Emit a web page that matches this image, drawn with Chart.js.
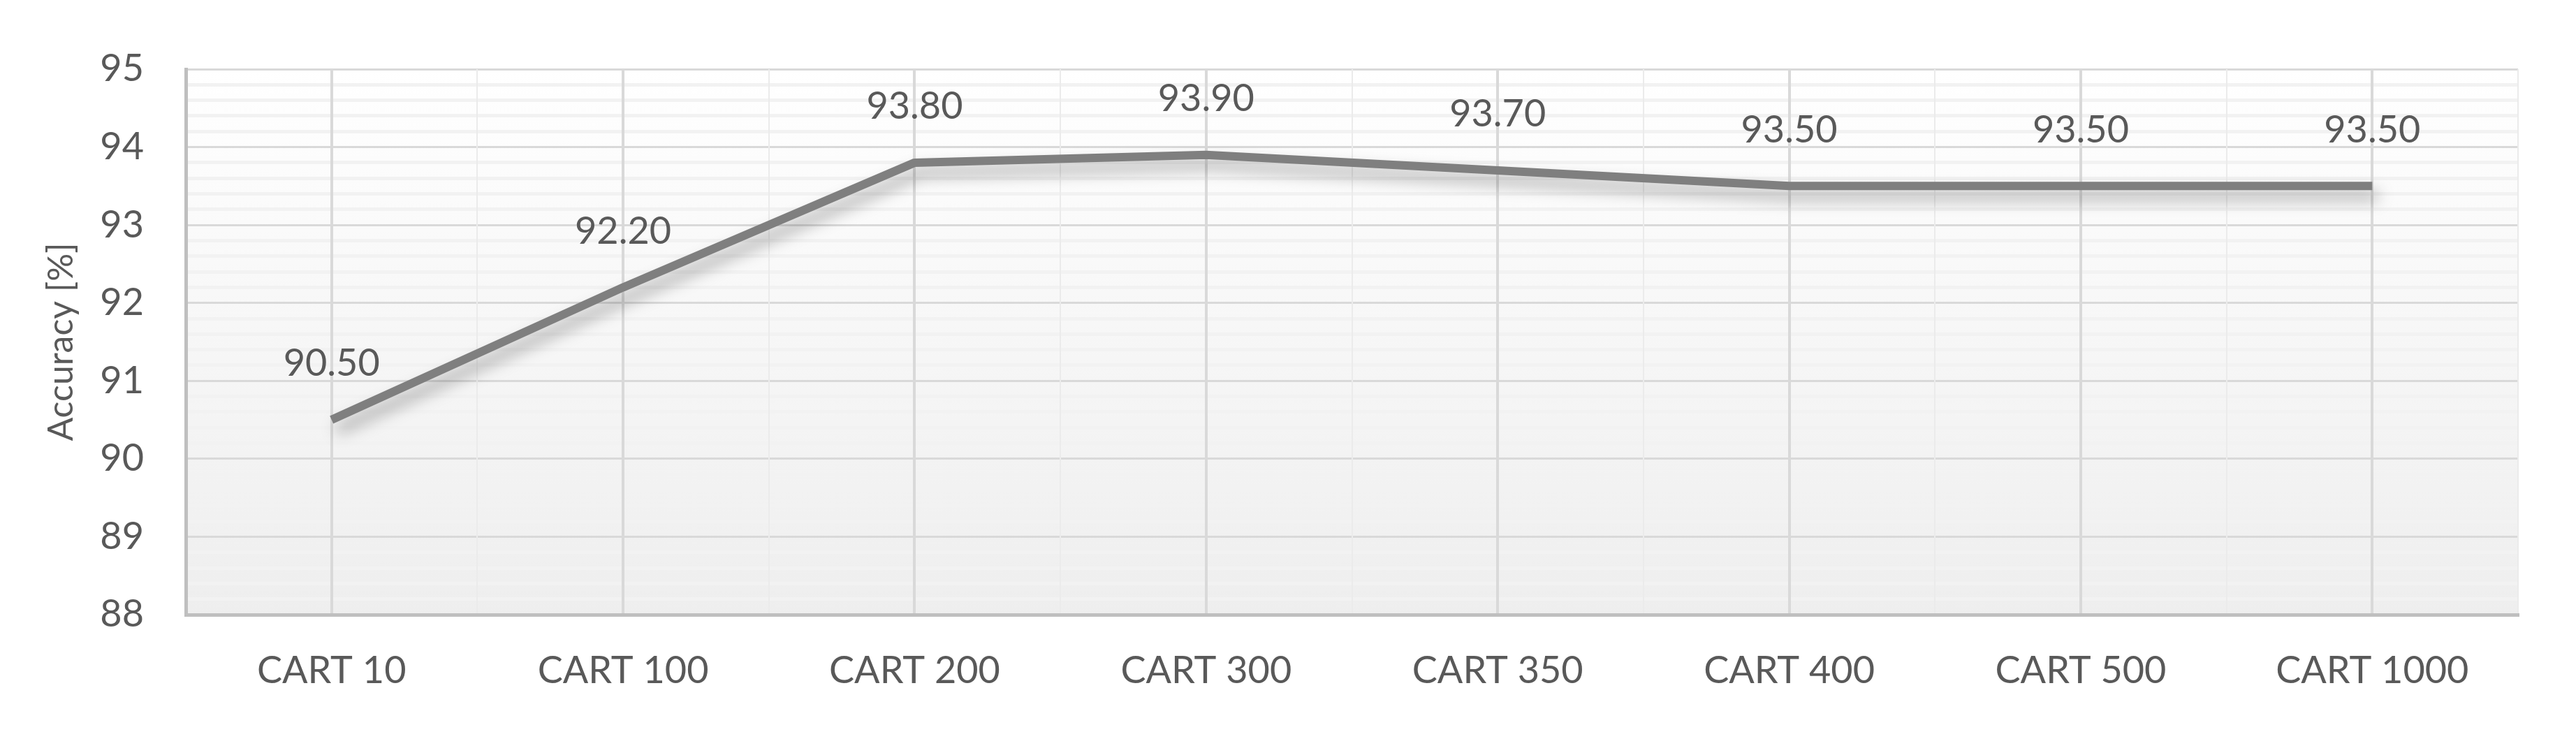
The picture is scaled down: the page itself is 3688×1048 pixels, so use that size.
<!DOCTYPE html>
<html>
<head>
<meta charset="utf-8">
<script src="https://cdn.jsdelivr.net/npm/chart.js@4.4.1/dist/chart.umd.min.js"></script>
<style>
  html, body { margin: 0; padding: 0; background: #ffffff; }
  #wrap { width: 3688px; height: 1048px; }
</style>
</head>
<body>
<div id="wrap"><canvas id="chart" width="3688" height="1048"></canvas></div>
<script>
// Data
const categories = ['CART 10', 'CART 100', 'CART 200', 'CART 300', 'CART 350', 'CART 400', 'CART 500', 'CART 1000'];
const accuracy = [90.5, 92.2, 93.8, 93.9, 93.7, 93.5, 93.5, 93.5];
const yMin = 88;
const yMax = 95;
const yMinorStep = 0.2;
const yTitle = 'Accuracy [%]';

const FONT = 'Lato, "Open Sans", sans-serif';
const TEXT = '#595959';

function isMajor(v) {
    return Math.abs(v - Math.round(v)) < 1e-6;
}

// plot area gradient
const bgPlugin = {
    id: 'plotBg',
    beforeDraw(chart) {
        const { ctx, chartArea: a } = chart;
        const g = ctx.createLinearGradient(0, a.top, 0, a.bottom);
        g.addColorStop(0, '#ffffff');
        g.addColorStop(1, '#eeeeee');
        ctx.save();
        ctx.fillStyle = g;
        ctx.fillRect(a.left, a.top, a.right - a.left, a.bottom - a.top);
        ctx.restore();
    }
};

// soft shadow under the line
const shadowPlugin = {
    id: 'lineShadow',
    beforeDatasetDraw(chart) {
        const ctx = chart.ctx;
        ctx.save();
        ctx.shadowColor = 'rgba(0,0,0,0.35)';
        ctx.shadowBlur = 22;
        ctx.shadowOffsetX = 8;
        ctx.shadowOffsetY = 14;
    },
    afterDatasetDraw(chart) {
        chart.ctx.restore();
    }
};

// value labels above points
const labelPlugin = {
    id: 'valueLabels',
    afterDatasetsDraw(chart) {
        const ctx = chart.ctx;
        const meta = chart.getDatasetMeta(0);
        ctx.save();
        ctx.font = '54px ' + FONT;
        ctx.fillStyle = TEXT;
        ctx.textAlign = 'center';
        ctx.textBaseline = 'middle';
        meta.data.forEach((pt, i) => {
            ctx.fillText(accuracy[i].toFixed(2), pt.x, pt.y - 80);
        });
        ctx.restore();
    }
};

new Chart(document.getElementById('chart'), {
    type: 'line',
    data: {
        labels: categories,
        datasets: [{
            data: accuracy,
            borderColor: '#7f7f7f',
            borderWidth: 12,
            borderCapStyle: 'butt',
            borderJoinStyle: 'round',
            pointRadius: 0,
            pointHoverRadius: 0,
            tension: 0,
            fill: false
        }]
    },
    options: {
        responsive: false,
        animation: false,
        devicePixelRatio: 1,
        layout: { padding: { top: 99, right: 83, left: 0, bottom: 0 } },
        plugins: {
            legend: { display: false },
            tooltip: { enabled: false }
        },
        scales: {
            x: {
                type: 'category',
                offset: true,
                grid: { z: -1, offset: false, color: '#d9d9d9', lineWidth: 4, drawTicks: false },
                border: { color: '#bfbfbf', width: 5 },
                ticks: { color: TEXT, font: { size: 54, family: FONT }, padding: 48, maxRotation: 0, autoSkip: false },
                afterFit(s) { s.height = 168; }
            },
            x2: {
                type: 'category',
                labels: categories,
                position: 'bottom',
                offset: true,
                grid: { z: -2, offset: true, color: '#ebebeb', lineWidth: 2, drawTicks: false },
                border: { display: false },
                ticks: { display: false },
                afterFit(s) { s.height = 0; }
            },
            y: {
                min: yMin,
                max: yMax,
                grid: {
                    z: -3,
                    drawTicks: false,
                    color: ctx => isMajor(ctx.tick.value) ? '#d9d9d9' : '#f2f2f2',
                    lineWidth: ctx => isMajor(ctx.tick.value) ? 3 : 5
                },
                border: { color: '#bfbfbf', width: 5 },
                ticks: {
                    stepSize: yMinorStep,
                    autoSkip: false,
                    color: TEXT,
                    font: { size: 54, family: FONT },
                    padding: 60,
                    callback: v => isMajor(v) ? String(Math.round(v)) : ''
                },
                title: {
                    display: true,
                    text: yTitle,
                    color: TEXT,
                    font: { size: 50, family: FONT },
                    padding: { top: 58, bottom: 0 }
                },
                afterFit(s) { s.width = 266; }
            }
        }
    },
    plugins: [bgPlugin, shadowPlugin, labelPlugin]
});
</script>
</body>
</html>
